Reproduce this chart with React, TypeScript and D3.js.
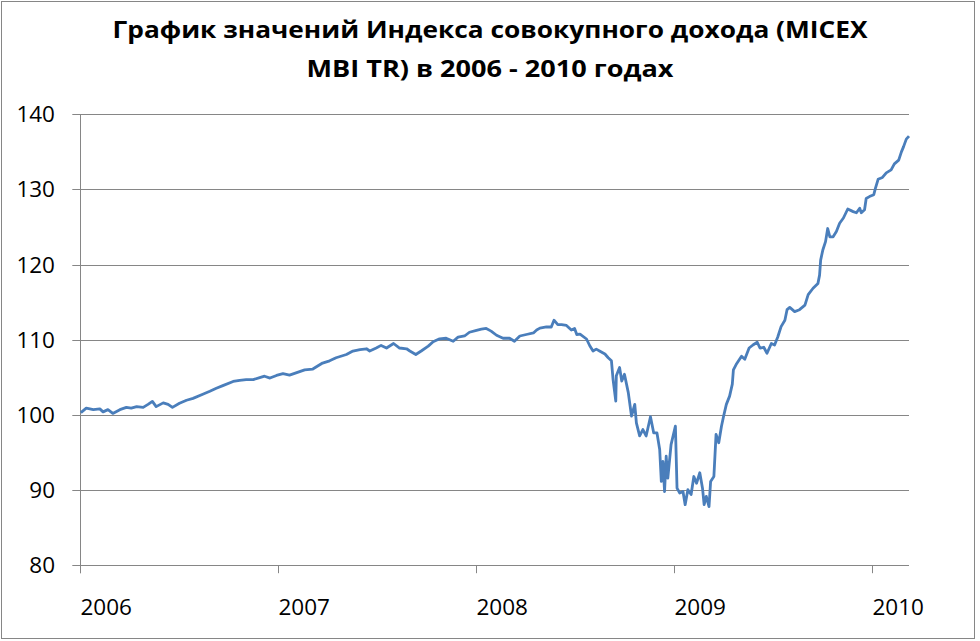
// MICEX MBI TR index, 2006 - 2010
import React, { useEffect, useRef } from 'react';
import * as d3 from 'd3';

const titleLines = [
  'График значений Индекса совокупного дохода (MICEX',
  'MBI TR) в 2006 - 2010 годах',
];
// measured widths of the two title lines in the original picture
const titleWidths = [755, 367];

const dates = [
  '2006-01-02', '2006-01-12', '2006-01-25', '2006-02-06', '2006-02-12', '2006-02-21',
  '2006-03-02', '2006-03-15', '2006-03-27', '2006-04-05', '2006-04-15', '2006-04-27',
  '2006-05-06', '2006-05-14', '2006-05-21', '2006-06-03', '2006-06-12', '2006-06-20',
  '2006-07-03', '2006-07-16', '2006-07-28', '2006-08-15', '2006-08-28', '2006-09-09',
  '2006-09-21', '2006-10-10', '2006-10-22', '2006-11-03', '2006-11-16', '2006-11-28',
  '2006-12-07', '2006-12-17', '2006-12-29', '2007-01-10', '2007-01-22', '2007-02-03',
  '2007-02-19', '2007-03-06', '2007-03-24', '2007-04-06', '2007-04-18', '2007-05-07',
  '2007-05-19', '2007-06-01', '2007-06-13', '2007-06-19', '2007-07-01', '2007-07-10',
  '2007-07-20', '2007-08-02', '2007-08-13', '2007-08-26', '2007-09-01', '2007-09-12',
  '2007-09-22', '2007-10-05', '2007-10-14', '2007-10-26', '2007-11-07', '2007-11-20',
  '2007-11-29', '2007-12-11', '2007-12-20', '2008-01-02', '2008-01-11', '2008-01-20',
  '2008-01-29', '2008-02-08', '2008-02-20', '2008-03-03', '2008-03-12', '2008-03-22',
  '2008-04-03', '2008-04-16', '2008-04-22', '2008-04-28', '2008-05-10', '2008-05-19',
  '2008-05-24', '2008-05-31', '2008-06-07', '2008-06-16', '2008-06-25', '2008-07-01',
  '2008-07-05', '2008-07-11', '2008-07-23', '2008-07-29', '2008-08-04', '2008-08-10',
  '2008-08-16', '2008-08-26', '2008-09-01', '2008-09-07', '2008-09-10', '2008-09-15',
  '2008-09-16', '2008-09-22', '2008-09-26', '2008-10-01', '2008-10-08', '2008-10-14',
  '2008-10-20', '2008-10-23', '2008-10-29', '2008-11-04', '2008-11-10', '2008-11-18',
  '2008-11-24', '2008-11-30', '2008-12-05', '2008-12-08', '2008-12-11', '2008-12-14',
  '2008-12-17', '2008-12-20', '2008-12-26', '2009-01-03', '2009-01-06', '2009-01-11',
  '2009-01-17', '2009-01-21', '2009-01-26', '2009-02-01', '2009-02-06', '2009-02-11',
  '2009-02-17', '2009-02-22', '2009-02-25', '2009-03-01', '2009-03-06', '2009-03-09',
  '2009-03-15', '2009-03-19', '2009-03-24', '2009-03-29', '2009-04-02', '2009-04-07',
  '2009-04-13', '2009-04-18', '2009-04-20', '2009-04-25', '2009-05-05', '2009-05-11',
  '2009-05-19', '2009-05-26', '2009-06-03', '2009-06-08', '2009-06-15', '2009-06-21',
  '2009-06-29', '2009-07-05', '2009-07-11', '2009-07-17', '2009-07-24', '2009-07-28',
  '2009-08-02', '2009-08-11', '2009-08-20', '2009-08-30', '2009-09-05', '2009-09-14',
  '2009-09-23', '2009-09-26', '2009-09-28', '2009-10-02', '2009-10-07', '2009-10-11',
  '2009-10-15', '2009-10-21', '2009-10-27', '2009-11-02', '2009-11-09', '2009-11-17',
  '2009-11-27', '2009-12-03', '2009-12-09', '2009-12-12', '2009-12-18', '2009-12-21',
  '2009-12-27', '2010-01-04', '2010-01-07', '2010-01-12', '2010-01-20', '2010-01-27',
  '2010-02-05', '2010-02-11', '2010-02-19', '2010-02-24', '2010-02-28', '2010-03-05',
  '2010-03-10',
];

const values = [
  100.3, 100.9, 100.7, 100.8, 100.4, 100.7,
  100.2, 100.7, 101.0, 100.9, 101.1, 101.0,
  101.4, 101.8, 101.1, 101.6, 101.4, 101.0,
  101.55, 101.95, 102.2, 102.75, 103.15, 103.55,
  103.9, 104.45, 104.6, 104.7, 104.7, 104.95,
  105.15, 104.9, 105.25, 105.5, 105.3, 105.6,
  106.0, 106.1, 106.9, 107.2, 107.6, 108.04,
  108.5, 108.7, 108.8, 108.5, 108.9, 109.25,
  108.9, 109.5, 108.9, 108.8, 108.5, 108.04,
  108.5, 109.15, 109.73, 110.13, 110.2, 109.8,
  110.35, 110.5, 111.0, 111.25, 111.4, 111.5,
  111.15, 110.6, 110.2, 110.2, 109.8, 110.5,
  110.7, 110.9, 111.3, 111.55, 111.7, 111.7,
  112.6, 112.0, 112.0, 111.9, 111.3, 111.5,
  110.7, 110.75, 110.1, 109.2, 108.5, 108.75,
  108.5, 108.1, 107.6, 107.2, 104.7, 101.85,
  105.2, 106.3, 104.5, 105.4, 103.0, 99.85,
  101.4, 98.95, 97.2, 98.05, 97.2, 99.75,
  97.6, 97.6, 95.4, 91.15, 93.8, 89.8,
  94.5, 91.6, 96.05, 98.5, 90.25, 89.6,
  89.8, 88.05, 90.05, 89.4, 91.8, 90.9,
  92.3, 90.25, 88.05, 89.15, 87.8, 91.15,
  91.8, 97.4, 96.3, 98.5, 99.85, 101.4,
  102.5, 104.1, 106.0, 106.7, 107.8, 107.4,
  108.9, 109.3, 109.67, 108.9, 109.0, 108.2,
  109.5, 109.3, 110.4, 111.75, 112.6, 114.0,
  114.3, 113.75, 114.0, 114.6, 116.0, 116.85,
  117.5, 118.6, 120.6, 121.95, 123.06, 124.8,
  123.7, 123.7, 124.4, 125.5, 126.2, 127.4,
  127.05, 126.9, 127.5, 126.9, 127.3, 128.8,
  129.05, 129.3, 130.15, 131.35, 131.6, 132.2,
  132.6, 133.4, 133.9, 135.0, 135.7, 136.7,
  137.1,
];

const yTicks = [80, 90, 100, 110, 120, 130, 140];
const yearTicks = ['2006', '2007', '2008', '2009', '2010'];
const xStart = '2006-01-01';
const xEnd = '2010-03-10';

const App: React.FC = () => {
  const svgRef = useRef<SVGSVGElement>(null);

  useEffect(() => {
    document.body.style.margin = '0';
    const width = 980;
    const height = 641;
    const margin = { top: 114.3, right: 71, bottom: 75.8, left: 80.3 };
    const parse = d3.utcParse('%Y-%m-%d');

    const svg = d3.select(svgRef.current);
    svg.selectAll('*').remove();
    svg.attr('width', width).attr('height', height);

    const font = "'Open Sans', 'Liberation Sans', Arial, sans-serif";
    const grey = '#868686';

    // chart border
    svg
      .append('rect')
      .attr('x', 1.5)
      .attr('y', 1.5)
      .attr('width', 973)
      .attr('height', 637)
      .attr('fill', '#fff')
      .attr('stroke', grey)
      .attr('stroke-width', 1);

    const xScale = d3
      .scaleUtc()
      .domain([parse(xStart)!, parse(xEnd)!])
      .range([margin.left, width - margin.right]);

    const yScale = d3
      .scaleLinear()
      .domain([80, 140])
      .range([height - margin.bottom, margin.top]);

    const x0 = xScale.range()[0];
    const x1 = xScale.range()[1];

    // horizontal gridlines + y ticks
    yTicks.forEach((t) => {
      const y = Math.round(yScale(t)) + 0.5;
      svg
        .append('line')
        .attr('x1', x0 - 8)
        .attr('x2', x1)
        .attr('y1', y)
        .attr('y2', y)
        .attr('stroke', grey)
        .attr('stroke-width', 1);
      svg
        .append('text')
        .attr('x', 55)
        .attr('y', y + 7)
        .attr('text-anchor', 'end')
        .style('font-family', font)
        .style('font-size', '22.5px')
        .attr('fill', '#000')
        .text(String(t));
    });

    // y axis line
    const ax = Math.round(x0) + 0.5;
    svg
      .append('line')
      .attr('x1', ax)
      .attr('x2', ax)
      .attr('y1', yScale(140))
      .attr('y2', yScale(80) + 8)
      .attr('stroke', grey)
      .attr('stroke-width', 1);

    // year ticks and labels
    yearTicks.forEach((yr) => {
      const x = Math.round(xScale(parse(`${yr}-01-01`)!)) + 0.5;
      svg
        .append('line')
        .attr('x1', x)
        .attr('x2', x)
        .attr('y1', yScale(80))
        .attr('y2', yScale(80) + 8)
        .attr('stroke', grey)
        .attr('stroke-width', 1);
      svg
        .append('text')
        .attr('x', x)
        .attr('y', 615)
        .style('font-family', font)
        .style('font-size', '22.5px')
        .attr('fill', '#000')
        .text(yr);
    });

    // index line
    const points = dates.map((d, i) => ({ date: parse(d)!, value: values[i] }));
    const line = d3
      .line<{ date: Date; value: number }>()
      .x((d) => xScale(d.date))
      .y((d) => yScale(d.value));

    svg
      .append('path')
      .datum(points)
      .attr('fill', 'none')
      .attr('stroke', '#4a7ebb')
      .attr('stroke-width', 2.8)
      .attr('stroke-linejoin', 'round')
      .attr('d', line);

    // title
    titleLines.forEach((ln, i) => {
      svg
        .append('text')
        .attr('x', 490)
        .attr('y', 37.5 + i * 39.5)
        .attr('text-anchor', 'middle')
        .attr('textLength', titleWidths[i])
        .attr('lengthAdjust', 'spacingAndGlyphs')
        .style('font-family', font)
        .style('font-size', '23px')
        .style('font-weight', '700')
        .attr('fill', '#000')
        .text(ln);
    });
  }, []);

  return (
    <div style={{ width: '980px', height: '641px' }}>
      <svg ref={svgRef} style={{ display: 'block' }}></svg>
    </div>
  );
};

export default App;
